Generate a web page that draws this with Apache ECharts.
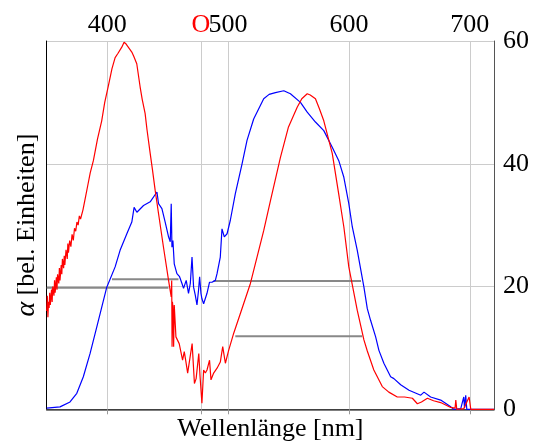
<!DOCTYPE html>
<html><head><meta charset="utf-8">
<script src="https://cdn.jsdelivr.net/npm/echarts@6/dist/echarts.min.js"></script>
<style>html,body{margin:0;padding:0;background:#fff}#c{width:536px;height:444px}</style>
</head><body><div id="c"></div>
<script>
// wavelength [nm] and alpha values, red curve
var redX = [350,350.5,351,351.5,352,352.5,353,354,354.5,355,356,356.5,357,358,358.5,359,360,360.5,361,362,362.5,363,364,364.5,365,366,367,367.5,368,369,370,371,372,373,374,375,376,377,378,380,382,384,386,388.6,392,395.5,398,401,404,406.6,409,412.1,414,415.7,417,420.4,422,424.5,427.3,429,431.4,433,435.6,437.5,439.7,442.5,446.6,450.8,453,453.4,453.7,454,454.4,455,455.5,456.9,459.6,462.4,463.8,465.2,466.6,468.1,470.3,472.2,473.6,475.8,476.8,478.4,479.8,481.2,482.6,484.7,485.9,488.1,490.9,493.6,495.6,497.8,500.5,504.7,510.2,518.5,529.5,535.1,543.3,550,557.2,561,565.5,568,572.3,575.5,579.2,586.2,591.6,595.8,599.9,606.9,612.4,615.2,620.6,627.6,633,640,646,652.5,656.6,660,664.9,670,675.9,684.2,687.8,688.4,689.2,695,699.4,700.8,710,715.9,716.5,720];
var redY = [16,18.5,15,17.5,16.5,19,17,19.5,17.5,20,18.5,21,19,21.5,19.5,22,20.5,23,21,23.5,22,24.5,23,25,23.5,26,24.5,27,25.5,27.5,26.5,28.5,27.5,29.5,29,30.5,30,31.5,31,32.5,34.5,36.5,38.5,40.5,44,47,50,52.7,55.5,57.3,58,59,59.8,59.5,59.7,58.2,57.5,56.3,52.5,50.5,48.2,45.5,41.7,39,35.7,31.9,26.4,21,18.3,21,10.2,17.5,16.7,10.2,17,11.8,10.7,8,9.4,7.7,5.9,5.9,10.7,4.2,5,9.1,5.5,1,6.4,5.9,6.4,8,4.8,5.9,6.7,7.7,10.2,7.5,9.6,12.4,15.6,20.5,29.1,34,41,46,49.2,50.6,51.4,51.2,50.6,49,47,41.7,35,29.7,23.2,16.1,11.3,9.5,6.4,3.7,2.8,2,2,1.8,0.9,1.2,1.8,1.4,1.1,0.3,0.2,1.5,0,0.1,2,0,0,0,0.3,0];
// blue curve
var blueX = [350,361,369.3,374.9,380.3,385.9,391.4,395.6,399.7,406.6,410.7,416.3,420.4,422.3,424.6,430.1,435.6,441.2,442.5,445.3,448,450.8,452.2,453,453.6,454.4,455.5,457.7,459.9,461.9,463.2,465.4,467.3,468.8,470.2,471.5,472.9,474.3,475.6,476.5,477.6,478.4,479.8,481.2,482.6,484.7,486.7,489.5,490.9,493.6,495,496.9,499.2,501.9,506,511.6,515.7,521.2,529.5,534,539.2,546.1,551.6,559.9,565.5,572.3,579.2,586.2,591.6,595.8,599.9,602.8,606.9,612.4,615.2,617.9,622.1,624.8,628.9,634.5,637.2,642.8,649.7,659.4,662.1,667.6,675.9,684.2,686.7,692.5,695,695.6,696.6,697.5,700.8,720];
var blueY = [0.2,0.4,1.2,2.6,5.3,9.1,13.4,16.7,19.9,23.2,25.9,28.6,30.5,32.9,32.1,33.2,33.8,35.4,33.5,32.7,30.5,28.1,27.3,33.5,26.4,27.5,23.7,22.1,21.6,20.5,19.7,21,18.9,20.5,24.8,19.9,18.6,17,19.4,21.6,18.9,18,17.2,17,18.9,20.7,20.7,21,22.1,24.8,29.4,28.1,28.6,30.8,35.1,40,43.8,47.3,50.6,51.3,51.6,51.9,51.4,50,48.4,46.8,45.4,42.7,40.5,37.8,33.5,29.7,25.9,19.9,16.4,14.5,11.8,9.6,7.5,5.3,5,4,3.1,2.3,2.8,2,1.5,0.4,0,0.1,2,0.2,2.3,0,0,0];
// gray horizontal marker lines
var segY = [19.8, 21.2, 20.9, 11.9];
var segStart = [350, 404, 488, 506];
var segEnd = [450.7, 459, 610, 611];
// axis ticks
var xTicks = [400, 477.6, 500, 600, 700];
var xTickText = ['400', 'O', '500', '600', '700'];
var yTicks = [0, 20, 40, 60];

var FONT = 'Liberation Serif';
function pairs(xs, ys){ return xs.map(function(x,i){return [x, ys[i]];}); }
var series = [];
segY.forEach(function(y,i){
  series.push({type:'line', xAxisIndex:0, yAxisIndex:0, data:[[segStart[i],y],[segEnd[i],y]],
    showSymbol:false, silent:true, lineStyle:{color:'#888', width:2}, z:1});
});
series.push({type:'line', xAxisIndex:0, yAxisIndex:0, data:pairs(blueX, blueY), showSymbol:false,
  lineStyle:{color:'#0000ff', width:1.2}, z:3});
series.push({type:'line', xAxisIndex:0, yAxisIndex:0, data:pairs(redX, redY), showSymbol:false,
  lineStyle:{color:'#ff0000', width:1.2}, z:4});

var chart = echarts.init(document.getElementById('c'), null, {renderer:'canvas'});
chart.setOption({
  animation:false,
  backgroundColor:'#fff',
  grid:{left:46.7, right:42, top:41, bottom:34.7, containLabel:false, outerBoundsMode:'none'},
  xAxis:[{
    type:'value', position:'top', min:350, max:720,
    axisLine:{show:true, lineStyle:{color:'#000', width:1}},
    axisTick:{show:true, inside:true, length:5, customValues:xTicks, lineStyle:{color:'#999'}},
    axisLabel:{show:true, customValues:xTicks, margin:3, fontFamily:FONT, fontSize:26, color:'#000',
      formatter:function(v){ var i = xTicks.indexOf(v); var t = i>=0 ? xTickText[i] : String(v); return t==='O' ? '{r|O}' : t; },
      rich:{r:{color:'#ff0000', fontFamily:FONT, fontSize:26}}},
    splitLine:{show:true, lineStyle:{color:'#cccccc', width:1}}
  },{
    type:'value', position:'bottom', min:350, max:720,
    axisLine:{show:true, onZero:false, lineStyle:{color:'#555', width:1.5}},
    axisTick:{show:false}, axisLabel:{show:false}, splitLine:{show:false},
    name:'Wellenlänge [nm]', nameLocation:'middle', nameGap:7,
    nameTextStyle:{fontFamily:FONT, fontSize:26, color:'#000'}
  }],
  yAxis:[{
    type:'value', position:'right', min:0, max:60, interval:20,
    axisLine:{show:true, lineStyle:{color:'#555', width:1}},
    axisTick:{show:false},
    axisLabel:{show:true, margin:9, fontFamily:FONT, fontSize:26, color:'#000'},
    splitLine:{show:true, lineStyle:{color:'#cccccc', width:1}}
  },{
    type:'value', position:'left', min:0, max:60, interval:20,
    axisLine:{show:true, onZero:false, lineStyle:{color:'#000', width:1}},
    axisTick:{show:false}, axisLabel:{show:false}, splitLine:{show:false},
    name:'{a|α} [bel. Einheiten]', nameLocation:'middle', nameRotate:90, nameGap:6,
    nameTextStyle:{fontFamily:FONT, fontSize:26, color:'#000',
      rich:{a:{fontFamily:FONT, fontSize:28, fontStyle:'italic', color:'#000'}}}
  }],
  series:series
});
</script></body></html>
